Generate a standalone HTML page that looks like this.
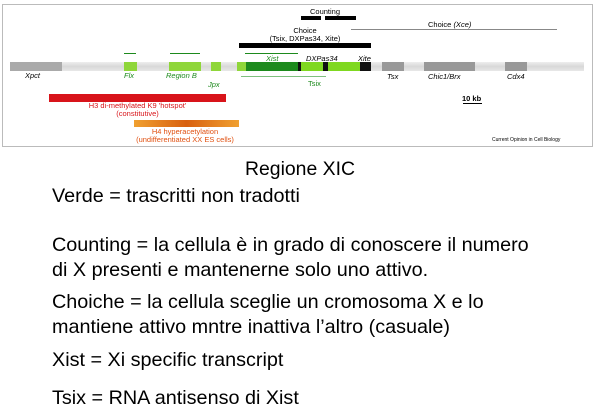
<!DOCTYPE html>
<html><head><meta charset="utf-8"><style>
body{margin:0;width:595px;height:413px;background:#fff;position:relative;overflow:hidden;font-family:"Liberation Sans",sans-serif}
.a{position:absolute}
.s{font-size:7.5px;white-space:nowrap}
.i{font-style:italic}
.t{position:absolute;left:52px;font-size:19.8px;color:#000;white-space:nowrap;line-height:22px}
</style></head><body>
<div class="a" style="left:2px;top:4px;width:589px;height:141px;border:1px solid #bbb"></div>
<div class="a" style="left:10px;top:62px;width:574px;height:9px;background:linear-gradient(#eee,#d8d8d8,#e8e8e8)"></div>
<div class="a" style="left:10px;top:62px;width:52px;height:9px;background:#aaa"></div>
<div class="a" style="left:124px;top:62px;width:13px;height:9px;background:#8fd63a"></div>
<div class="a" style="left:169px;top:62px;width:32px;height:9px;background:#8fd63a"></div>
<div class="a" style="left:211px;top:62px;width:10px;height:9px;background:#8fd63a"></div>
<div class="a" style="left:237px;top:62px;width:9px;height:9px;background:#8fd63a"></div>
<div class="a" style="left:246px;top:62px;width:52px;height:9px;background:#1d8a1d"></div>
<div class="a" style="left:298px;top:62px;width:3px;height:9px;background:#111"></div>
<div class="a" style="left:301px;top:62px;width:22px;height:9px;background:#7fd820"></div>
<div class="a" style="left:323px;top:62px;width:5px;height:9px;background:#111"></div>
<div class="a" style="left:328px;top:62px;width:32px;height:9px;background:#7fd820"></div>
<div class="a" style="left:360px;top:62px;width:11px;height:9px;background:#111"></div>
<div class="a" style="left:382px;top:62px;width:22px;height:9px;background:#999"></div>
<div class="a" style="left:424px;top:62px;width:51px;height:9px;background:#999"></div>
<div class="a" style="left:505px;top:62px;width:22px;height:9px;background:#999"></div>
<div class="a" style="left:124px;top:53px;width:12px;height:1px;background:#1d8a1d"></div>
<div class="a" style="left:170px;top:53px;width:30px;height:1px;background:#1d8a1d"></div>
<div class="a" style="left:245px;top:53px;width:53px;height:1px;background:#1d8a1d"></div>
<div class="a" style="left:241px;top:76px;width:85px;height:1px;background:#7fc07f"></div>
<div class="a s i" style="left:25px;top:71px">Xpct</div>
<div class="a s i" style="left:124px;top:71px;color:#1d8a1d">Flx</div>
<div class="a s i" style="left:166px;top:71px;color:#1d8a1d">Region B</div>
<div class="a s i" style="left:208px;top:80px;color:#1d8a1d">Jpx</div>
<div class="a s i" style="left:266px;top:54px;color:#1d8a1d">Xist</div>
<div class="a s i" style="left:306px;top:54px">DXPas34</div>
<div class="a s i" style="left:358px;top:54px">Xite</div>
<div class="a s" style="left:308px;top:79px;color:#1d8a1d">Tsix</div>
<div class="a s i" style="left:387px;top:72px">Tsx</div>
<div class="a s i" style="left:428px;top:72px">Chic1/Brx</div>
<div class="a s i" style="left:507px;top:72px">Cdx4</div>
<div class="a" style="left:49px;top:94px;width:177px;height:8px;background:#d8141a"></div>
<div class="a s" style="left:49px;width:177px;top:102px;text-align:center;color:#d8141a;line-height:8px">H3 di-methylated K9 'hotspot'<br>(constitutive)</div>
<div class="a" style="left:134px;top:120px;width:105px;height:7px;background:linear-gradient(90deg,#f0a030,#d86010,#f0a030)"></div>
<div class="a s" style="left:110px;width:150px;top:128px;text-align:center;color:#e05010;line-height:8px">H4 hyperacetylation<br>(undifferentiated XX ES cells)</div>
<div class="a s" style="left:310px;top:7px">Counting</div>
<div class="a" style="left:301px;top:16px;width:20px;height:4px;background:#000"></div>
<div class="a" style="left:325px;top:16px;width:31px;height:4px;background:#000"></div>
<div class="a s" style="left:428px;top:20px">Choice <i>(Xce)</i></div>
<div class="a" style="left:351px;top:29px;width:206px;height:1px;background:#888"></div>
<div class="a s" style="left:255px;width:100px;top:27px;text-align:center;line-height:8px">Choice<br>(Tsix, DXPas34, Xite)</div>
<div class="a" style="left:239px;top:43px;width:132px;height:5px;background:#000"></div>
<div class="a s" style="left:462px;top:94px;font-weight:bold">10 kb</div>
<div class="a" style="left:463px;top:103px;width:19px;height:1px;background:#000"></div>
<div class="a" style="left:492px;top:137px;font-size:5px;white-space:nowrap">Current Opinion in Cell Biology</div>
<div class="a" style="left:0;width:600px;top:158px;text-align:center;font-size:19.4px;line-height:22px">Regione XIC</div>
<div class="t" style="top:185px">Verde = trascritti non tradotti</div>
<div class="t" style="top:234px">Counting = la cellula è in grado di conoscere il numero</div>
<div class="t" style="top:259px">di X presenti e mantenerne solo uno attivo.</div>
<div class="t" style="top:291px">Choiche = la cellula sceglie un cromosoma X e lo</div>
<div class="t" style="top:316px">mantiene attivo mntre inattiva l’altro (casuale)</div>
<div class="t" style="top:349px">Xist = Xi specific transcript</div>
<div class="t" style="top:387px">Tsix = RNA antisenso di Xist</div>
</body></html>
